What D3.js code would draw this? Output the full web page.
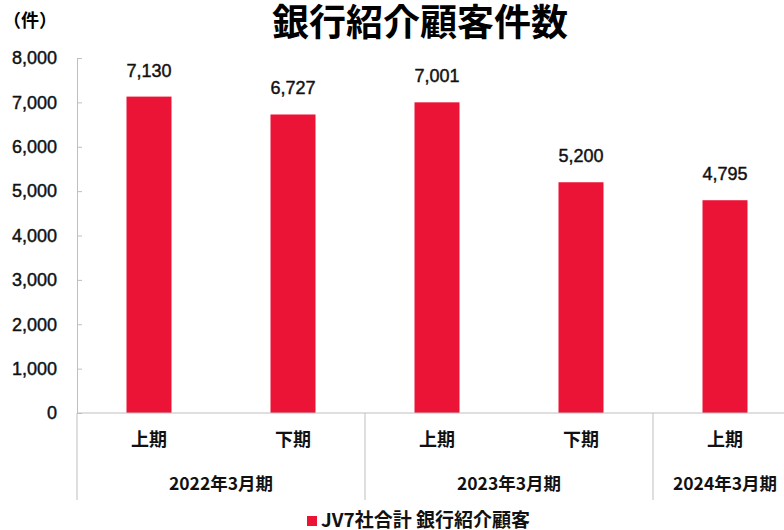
<!DOCTYPE html>
<html lang="ja">
<head>
    <meta charset="UTF-8">
    <title>銀行紹介顧客件数</title>
    <script src="https://cdn.jsdelivr.net/npm/d3@7"></script>
    <style>
        body { margin: 0; background: #fff; }
        svg { display: block; font-family: "Liberation Sans", "Noto Sans CJK JP", sans-serif; }
        .jp { font-family: "Noto Sans CJK JP", sans-serif; font-weight: 700; }
        .num { stroke: #111; stroke-width: 0.45px; }
        .axis path, .axis line { stroke: #bfbfbf; }
    </style>
</head>
<body>
<svg width="784" height="530"></svg>
<script>
    // data
    var periods = ["上期", "下期", "上期", "下期", "上期"];
    var years = ["2022年3月期", "2022年3月期", "2023年3月期", "2023年3月期", "2024年3月期"];
    var values = [7130, 6727, 7001, 5200, 4795];
    var yTicks = [0, 1000, 2000, 3000, 4000, 5000, 6000, 7000, 8000];
    var seriesName = "JV7社合計 銀行紹介顧客";
    var barColor = "#eb1436";

    var svg = d3.select("svg");
    var left = 77, plotTop = 58, plotBottom = 413;

    var x = d3.scaleBand()
        .domain(d3.range(values.length))
        .range([left, left + 144 * values.length])
        .paddingInner(0.6875)
        .paddingOuter(0.34375);

    var y = d3.scaleLinear()
        .domain([0, 8000])
        .range([plotBottom, plotTop]);

    // title + unit
    svg.append("text")
        .attr("class", "jp")
        .attr("x", 420).attr("y", 36)
        .attr("text-anchor", "middle")
        .attr("font-size", 37)
        .text("銀行紹介顧客件数");

    svg.append("text")
        .attr("class", "jp")
        .attr("x", 3).attr("y", 27)
        .attr("font-size", 18)
        .text("（件）");

    // y axis, ticks point inward like Excel
    svg.append("g")
        .attr("class", "axis")
        .attr("transform", "translate(" + left + ",0)")
        .call(d3.axisLeft(y).tickValues(yTicks).tickSizeInner(-5).tickSizeOuter(0)
            .tickPadding(20).tickFormat(d3.format(",")))
        .call(function(g) {
            g.selectAll("text").attr("class", "num").attr("font-size", 18).attr("fill", "#111")
                .attr("font-family", "Liberation Sans, sans-serif");
        });

    // bars
    svg.append("g")
        .selectAll("rect")
        .data(values)
        .enter().append("rect")
        .attr("x", function(d, i) { return x(i); })
        .attr("y", function(d) { return y(d); })
        .attr("width", x.bandwidth())
        .attr("height", function(d) { return plotBottom - y(d); })
        .attr("fill", barColor);

    svg.append("g")
        .selectAll("text")
        .data(values)
        .enter().append("text")
        .attr("class", "num")
        .attr("x", function(d, i) { return x(i) + x.bandwidth() / 2; })
        .attr("y", function(d) { return y(d) - 20; })
        .attr("text-anchor", "middle")
        .attr("font-size", 18)
        .attr("fill", "#111")
        .text(function(d) { return d3.format(",")(d); });

    // x axis with grouped categories
    var half = (x.step() - x.bandwidth()) / 2;
    svg.append("line")
        .attr("x1", left).attr("x2", 784)
        .attr("y1", plotBottom).attr("y2", plotBottom)
        .attr("stroke", "#bfbfbf");

    svg.append("g")
        .selectAll("text")
        .data(periods)
        .enter().append("text")
        .attr("class", "jp")
        .attr("x", function(d, i) { return x(i) + x.bandwidth() / 2; })
        .attr("y", 446)
        .attr("text-anchor", "middle")
        .attr("font-size", 18)
        .attr("fill", "#111")
        .text(function(d) { return d; });

    var groups = [];
    years.forEach(function(yr, i) {
        var last = groups[groups.length - 1];
        if (last && last.name === yr) { last.end = i; }
        else { groups.push({name: yr, start: i, end: i}); }
    });

    svg.append("g")
        .selectAll("line")
        .data(groups)
        .enter().append("line")
        .attr("x1", function(d) { return x(d.start) - half; })
        .attr("x2", function(d) { return x(d.start) - half; })
        .attr("y1", plotBottom).attr("y2", 500)
        .attr("stroke", "#bfbfbf");

    svg.append("g")
        .selectAll("text")
        .data(groups)
        .enter().append("text")
        .attr("class", "jp")
        .attr("x", function(d) { return (x(d.start) + x(d.end) + x.bandwidth()) / 2; })
        .attr("y", 490)
        .attr("text-anchor", "middle")
        .attr("font-size", 17.5)
        .attr("fill", "#111")
        .text(function(d) { return d.name; });

    // legend
    var legend = svg.append("g").attr("transform", "translate(307,516)");
    legend.append("rect").attr("width", 10).attr("height", 10).attr("fill", barColor);
    legend.append("text")
        .attr("class", "jp")
        .attr("x", 14).attr("y", 11)
        .attr("font-size", 19)
        .attr("fill", "#111")
        .text(seriesName);
</script>
</body>
</html>
